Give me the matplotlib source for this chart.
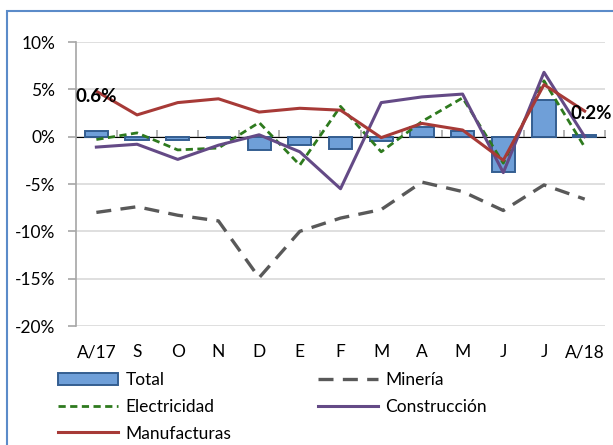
import matplotlib
matplotlib.use("Agg")
import matplotlib.pyplot as plt
import numpy as np
from matplotlib.patches import Rectangle

plt.rcParams['font.family'] = ['Lato', 'DejaVu Sans']

categories = ["A/17", "S", "O", "N", "D", "E", "F", "M", "A", "M", "J", "J", "A/18"]
total = [0.6, -0.3, -0.4, -0.1, -1.4, -0.9, -1.3, -0.5, 1.0, 0.6, -3.7, 3.9, 0.2]
mineria = [-8.0, -7.4, -8.3, -8.9, -14.9, -10.0, -8.6, -7.7, -4.8, -5.8, -7.8, -5.1, -6.6]
electricidad = [-0.3, 0.4, -1.4, -1.2, 1.5, -3.0, 3.2, -1.6, 1.6, 4.1, -2.8, 5.9, -1.1]
construccion = [-1.1, -0.8, -2.4, -0.9, 0.2, -1.6, -5.5, 3.6, 4.2, 4.5, -3.8, 6.8, 0.0]
manufacturas = [4.8, 2.3, 3.6, 4.0, 2.6, 3.0, 2.8, -0.1, 1.4, 0.7, -2.5, 5.5, 2.7]
yticks = [10, 5, 0, -5, -10, -15, -20]

fig = plt.figure(figsize=(6.13, 4.45), dpi=100)
ax = fig.add_axes([0.124, 0.2674, 0.863, 0.6382])
x = np.arange(len(categories))

# grid
for yv in yticks:
    ax.axhline(yv, color='#d9d9d9', lw=1.2, zorder=0)

bars = ax.bar(x, total, width=0.57, color='#6f9fd8', edgecolor='#345e91',
              linewidth=1.4, zorder=2, label='Total')

ax.plot(x, mineria, color='#595959', lw=2.4, dashes=(4.5, 2.8), zorder=3, label='Minería')
ax.plot(x, electricidad, color='#2e7a1e', lw=2.0, dashes=(2.6, 1.6), zorder=3, label='Electricidad')
ax.plot(x, construccion, color='#644a86', lw=2.2, zorder=3, label='Construcción')
ax.plot(x, manufacturas, color='#a73a37', lw=2.2, zorder=3, label='Manufacturas')

ax.text(x[0], 4.2, f"{total[0]:.1f}%", ha='center', va='center', fontsize=13.5,
        fontweight='bold', zorder=5)
ax.text(x[-1] + 0.15, 2.5, f"{total[-1]:.1f}%", ha='center', va='center', fontsize=13.5,
        fontweight='bold', zorder=5)

ax.set_xlim(-0.5, len(categories) - 0.5)
ax.set_ylim(-20, 10)
ax.set_yticks(yticks)
ax.set_yticklabels([f"{v}%" for v in yticks], fontsize=12.5)
ax.set_xticks(x)
ax.set_xticklabels(categories, fontsize=12.5)
ax.tick_params(axis='x', length=0, pad=13)
ax.tick_params(axis='y', length=6, width=1.2, color='#a6a6a6', pad=9)
for s in ['top', 'right', 'bottom']:
    ax.spines[s].set_visible(False)
ax.spines['left'].set_color('#a6a6a6')
ax.spines['left'].set_linewidth(1.2)

# zero axis with category boundary ticks
sec = ax.secondary_xaxis(2/3)
sec.set_xticks(np.arange(len(categories) + 1) - 0.5)
sec.set_xticklabels([])
sec.tick_params(length=5, width=1.2, color='#a6a6a6', direction='out')
sec.spines['bottom'].set_color('#a6a6a6')
sec.spines['bottom'].set_linewidth(1.2)
sec.set_zorder(1)

handles, labels = ax.get_legend_handles_labels()
hmap = dict(zip(labels, handles))
common = dict(frameon=False, fontsize=12.5, handlelength=3.5, handletextpad=0.4,
              labelspacing=0.62, borderpad=0, borderaxespad=0, loc='upper left')
leg1 = fig.legend([hmap['Total'], hmap['Electricidad'], hmap['Manufacturas']],
                  ['Total', 'Electricidad', 'Manufacturas'],
                  bbox_to_anchor=(0.094, 0.164), **common)
leg2 = fig.legend([hmap['Minería'], hmap['Construcción']],
                  ['Minería', 'Construcción'],
                  bbox_to_anchor=(0.518, 0.164), **common)

fig.patches.append(Rectangle((0.0114, -0.1), 1.2, 1.0753, transform=fig.transFigure,
                             fill=False, edgecolor='#5b8bc9', lw=1.5))

fig.savefig('out.png', dpi=100)
